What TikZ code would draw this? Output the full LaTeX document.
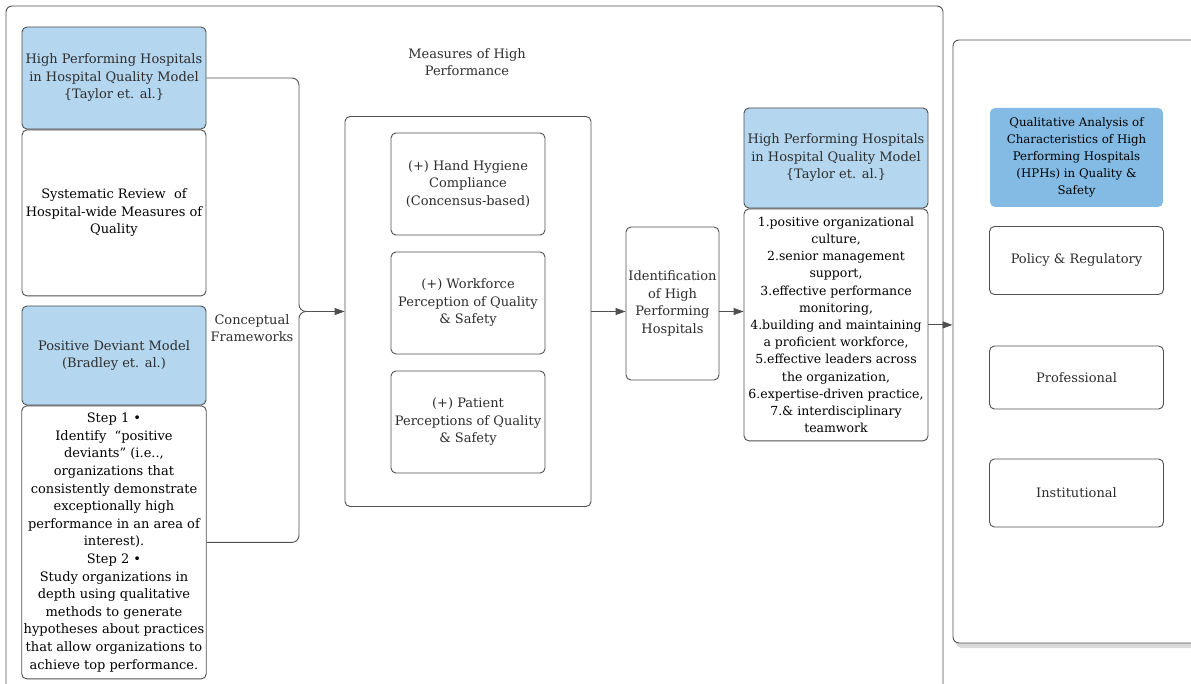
\documentclass[tikz,border=0pt]{standalone}
\usepackage{fontspec}
\setmainfont{DejaVu Serif}
\usetikzlibrary{positioning, arrows.meta, shadows}
\definecolor{boxblue}{RGB}{180,214,239}
\definecolor{qualblue}{RGB}{132,187,228}
\definecolor{edgegrey}{RGB}{80,80,80}
\definecolor{textgrey}{RGB}{45,45,45}

\begin{document}
\begin{tikzpicture}[x=1pt, y=-1pt,
    font=\fontsize{13}{17.5}\selectfont,
    card/.style={draw=edgegrey, line width=0.9pt, rounded corners=5pt, fill=white, align=center, inner sep=2pt, text=textgrey},
    bluecard/.style={card, fill=boxblue},
    link/.style={-{Triangle[length=10pt, width=7pt]}, draw=edgegrey, line width=0.9pt},
    bracket/.style={draw=edgegrey, line width=0.9pt, rounded corners=7pt}]
  \useasboundingbox (0,0) rectangle (1191,684);

  % outer frame
  \draw[edgegrey, line width=0.9pt, rounded corners=6pt] (6,6) rectangle (943,690);

  % conceptual frameworks (left column)
  \node[bluecard, minimum width=184pt, minimum height=102pt] (TaylorA) at (114,78)
    {High Performing Hospitals\\ in Hospital Quality Model\\ \{Taylor et. al.\}};
  \node[card, below=0pt of TaylorA, minimum width=184pt, minimum height=166pt, text=black] (ReviewA)
    {Systematic Review\ \ of\\ Hospital-wide Measures of\\ Quality};
  \node[bluecard, minimum width=184pt, minimum height=99pt] (Bradley) at (114,355.5)
    {Positive Deviant Model\\ (Bradley et. al.)};
  \node[card, below=0pt of Bradley, minimum width=184pt, minimum height=273pt, text=black,
        font=\fontsize{13}{17.6}\selectfont] (Steps)
    {Step 1 •\\ Identify\ \ “positive\\ deviants” (i.e..,\\ organizations that\\ consistently demonstrate\\
     exceptionally high\\ performance in an area of\\ interest).\\ Step 2 •\\ Study organizations in\\
     depth using qualitative\\ methods to generate\\ hypotheses about practices\\ that allow organizations to\\
     achieve top performance.};
  \node[align=center, text=textgrey] (Concept) at (252,328) {Conceptual\\ Frameworks};

  % measures of high performance
  \node[align=center, text=textgrey] (MeasLabel) at (467,62) {Measures of High\\ Performance};
  \node[card, minimum width=246pt, minimum height=390pt] (MeasBox) at (468,311.5) {};
  \node[card, minimum width=154pt, minimum height=102pt] (Hygiene) at (468,184)
    {(+) Hand Hygiene\\ Compliance\\ (Concensus-based)};
  \node[card, minimum width=154pt, minimum height=102pt] (Workforce) at (468,303)
    {(+) Workforce\\ Perception of Quality\\ \& Safety};
  \node[card, minimum width=154pt, minimum height=102pt] (Patient) at (468,422)
    {(+) Patient\\ Perceptions of Quality\\ \& Safety};

  % identification and characteristics
  \node[card, minimum width=93pt, minimum height=153pt] (Ident) at (672.5,303.5)
    {Identification\\ of High\\ Performing\\ Hospitals};
  \node[bluecard, minimum width=184pt, minimum height=100pt] (TaylorB) at (836,158)
    {High Performing Hospitals\\ in Hospital Quality Model\\ \{Taylor et. al.\}};
  \node[card, below=0pt of TaylorB, minimum width=184pt, minimum height=232pt, text=black,
        font=\fontsize{12.5}{17.2}\selectfont] (Traits)
    {1.positive organizational\\ culture,\\ 2.senior management\\ support,\\ 3.effective performance\\
     monitoring,\\ 4.building and maintaining\\ a proficient workforce,\\ 5.effective leaders across\\
     the organization,\\ 6.expertise-driven practice,\\ 7.\& interdisciplinary\\ teamwork};

  % qualitative analysis panel
  \node[draw=edgegrey, line width=0.9pt, rounded corners=6pt, fill=white,
        drop shadow={shadow xshift=3pt, shadow yshift=-5pt, fill=black!25, opacity=0.6},
        minimum width=260pt, minimum height=603pt] (Panel) at (1083,341.5) {};
  \node[card, draw=none, fill=qualblue, text=black, minimum width=173pt, minimum height=99pt,
        font=\fontsize{11.8}{17}\selectfont] (Qual) at (1076.5,157.5)
    {Qualitative Analysis of\\ Characteristics of High\\ Performing Hospitals\\ (HPHs) in Quality \&\\ Safety};
  \node[card, minimum width=174pt, minimum height=68pt] (Policy) at (1076.5,260.5) {Policy \& Regulatory};
  \node[card, minimum width=174pt, minimum height=63pt] (Professional) at (1076.5,377.5) {Professional};
  \node[card, minimum width=174pt, minimum height=68pt] (Institutional) at (1076.5,493) {Institutional};

  % connectors
  \coordinate (Brace) at (299,311.5);
  \draw[link, rounded corners=7pt] (TaylorA.east) -| (Brace) -- (MeasBox.west);
  \draw[bracket] (Steps.east) -| (Brace) -- ++(12,0);
  \draw[link] (MeasBox.east) -- (MeasBox.east -| Ident.west);
  \draw[link] (MeasBox.east -| Ident.east) -- (MeasBox.east -| Traits.west);
  \draw[link] (Traits.east) -- (Traits.east -| Panel.west);
\end{tikzpicture}
\end{document}
